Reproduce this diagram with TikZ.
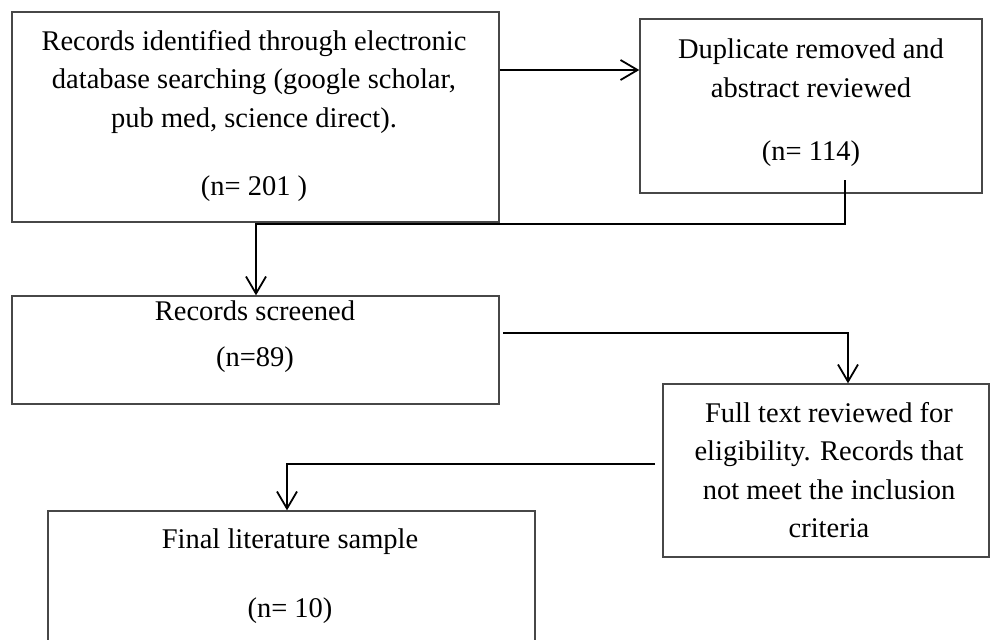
\documentclass[tikz,border=0pt]{standalone}
\usepackage{fontspec}
\setmainfont{Liberation Serif}
\usetikzlibrary{arrows.meta,fit}

\tikzset{
  box/.style={draw=black!72, line width=0.7pt, inner sep=0pt, fill=none},
  txt/.style={anchor=base, inner sep=0pt, font=\fontsize{14.25}{17}\selectfont},
  arr/.style={draw=black, line width=1pt,
    -{Straight Barb[length=8.5pt,width=10pt,line width=0.9pt]}}
}

\begin{document}
\begin{tikzpicture}[x=0.5pt,y=-0.5pt]
  \useasboundingbox (0,0) rectangle (992,639);
  \clip (0,0) rectangle (992,639);

  % boxes
  \node[box, fit={(12,12) (499,222)}] (b1) {};
  \node[box, fit={(640,19) (982,193)}] (b2) {};
  \node[box, fit={(12,296) (499,404)}] (b3) {};
  \node[box, fit={(663,384) (989,557)}] (b4) {};
  \node[box, fit={(48,511) (535,700)}] (b5) {};

  % box texts
  \node[txt] (t1a) at (254,50)    {Records identified through electronic};
  \node[txt] (t1b) at (254,88.5)  {database searching (google scholar,};
  \node[txt] (t1c) at (254,127)   {pub med, science direct).};
  \node[txt] (t1d) at (254,195)   {(n= 201 )};

  \node[txt] (t2a) at (811,58)  {Duplicate removed and};
  \node[txt] (t2b) at (811,97)  {abstract reviewed};
  \node[txt] (t2c) at (811,160) {(n= 114)};

  \node[txt] (t3a) at (255,320) {Records screened};
  \node[txt] (t3b) at (255,366) {(n=89)};

  \node[txt] (t4a) at (829,422)   {Full text reviewed for};
  \node[txt] (t4b) at (829,460.5) {eligibility. Records that};
  \node[txt] (t4c) at (829,499)   {not meet the inclusion};
  \node[txt] (t4d) at (829,537.5) {criteria};

  \node[txt] (t5a) at (290,548) {Final literature sample};
  \node[txt] (t5b) at (290,617) {(n= 10)};

  % connector anchor points
  \coordinate (c1) at (845,180);
  \coordinate (j1) at (256,224);
  \coordinate (s2) at (503,333);
  \coordinate (k2) at (848,333);
  \coordinate (s3) at (655,464);
  \coordinate (k3) at (287,464);

  % connectors
  \draw[arr] (b1.east |- 0,70) -- (b2.west |- 0,70);
  \draw[arr] (c1) |- (j1) -- (j1 |- b3.north);
  \draw[arr] (s2) -- (k2) -- (k2 |- b4.north);
  \draw[arr] (s3) -- (k3) -- (k3 |- b5.north);
\end{tikzpicture}
\end{document}
